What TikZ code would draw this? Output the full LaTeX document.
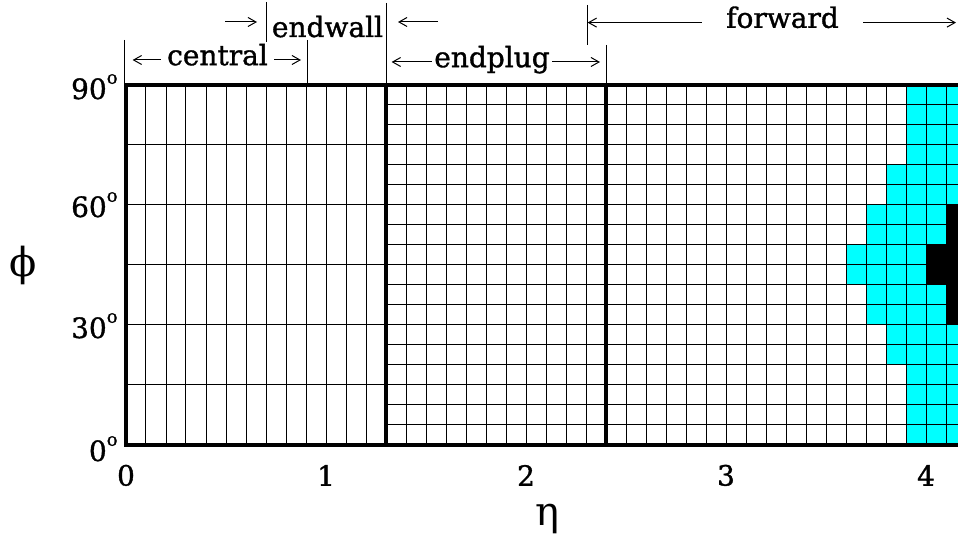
\documentclass[tikz,border=0pt]{standalone}
\usepackage{fontspec}
\setmainfont{DejaVu Serif}
\newfontfamily\lblfont{DejaVu Serif}[RawFeature={embolden=1.2}]
\usepackage{tikz}
\tikzset{x=100pt,y=2pt}
\usetikzlibrary{arrows.meta}
\definecolor{towercyan}{RGB}{0,255,255}
\newcommand{\degsup}{\raisebox{1.05ex}{\fontsize{9}{9}\selectfont o}}

\begin{document}
\begin{tikzpicture}[
    txt/.style={font=\lblfont\fontsize{14}{16}\selectfont, inner sep=0pt},
    greek/.style={font=\fontsize{20}{24}\selectfont, inner sep=0pt},
    dimarrow/.style={-{Straight Barb[length=4pt,width=4.5pt]}, line width=0.5pt},
    tickbar/.style={line width=0.5pt},
    gridline/.style={line width=0.5pt},
    boxline/.style={line width=2.2pt}]
\useasboundingbox (-0.63,-22.5) rectangle (4.16,111.25);

% towers with energy
\fill[towercyan] (3.9,70) rectangle (4.2,90);
\fill[towercyan] (3.8,60) rectangle (4.2,70);
\fill[towercyan] (3.7,50) rectangle (4.1,60);
\fill[black] (4.1,50) rectangle (4.2,60);
\fill[towercyan] (3.6,40) rectangle (4.0,50);
\fill[black] (4.0,40) rectangle (4.2,50);
\fill[towercyan] (3.7,30) rectangle (4.1,40);
\fill[black] (4.1,30) rectangle (4.2,40);
\fill[towercyan] (3.8,20) rectangle (4.2,30);
\fill[towercyan] (3.9,0) rectangle (4.2,20);

% central + endwall segmentation
\foreach \i in {1,...,12}
    \draw[gridline] (\i/10,0) -- (\i/10,90);
\foreach \p in {15,30,...,75}
    \draw[gridline] (0,\p) -- (1.3,\p);
% endplug + forward segmentation
\foreach \i in {14,...,42}
    \draw[gridline] (\i/10,0) -- (\i/10,90);
\foreach \p in {5,10,...,85}
    \draw[gridline] (1.3,\p) -- (4.2,\p);

% detector boundaries
\draw[boxline] (0,0) rectangle (1.3,90);
\draw[boxline] (1.3,0) rectangle (2.4,90);
\draw[boxline] (2.4,0) -- (4.2,0) (2.4,90) -- (4.2,90);

% phi axis
\node[txt,anchor=base east] (p90) at (-0.04,86.5) {90\degsup};
\node[txt,anchor=base east] (p60) at (-0.04,57) {60\degsup};
\node[txt,anchor=base east] (p30) at (-0.04,26.75) {30\degsup};
\node[txt,anchor=base east] (p0) at (-0.04,-4) {0\degsup};
\node[greek] (philbl) at (-0.515,45) {ϕ};

% eta axis
\foreach \e in {0,...,4}
    \node[txt] (eta\e) at (\e,-7.6) {\e};
\node[greek] (etalbl) at (2.105,-18.6) {η};

% region limits
\coordinate (c0t) at (-0.01,101.25); \coordinate (c0b) at (-0.01,90);
\coordinate (c1t) at (0.905,101.25); \coordinate (c1b) at (0.905,90);
\coordinate (w0t) at (0.703,110.75); \coordinate (w0b) at (0.703,100.75);
\coordinate (w1t) at (1.303,110.5);  \coordinate (w1b) at (1.303,90);
\coordinate (p1t) at (2.403,100);    \coordinate (p1b) at (2.403,90);
\coordinate (f0t) at (2.308,110);    \coordinate (f0b) at (2.308,100);
\foreach \b in {c0,c1,w0,w1,p1,f0}
    \draw[tickbar] (\b t) -- (\b b);

% central
\node[txt,anchor=mid,inner xsep=3pt] (central) at (0.4575,96.25) {central};
\draw[dimarrow,shorten >=4.3pt] (central.mid west) -- (central.mid west -| c0t);
\draw[dimarrow,shorten >=3pt] (central.mid east) -- (central.mid east -| c1t);

% endwall
\node[txt,anchor=base] (endwall) at (1.0075,102) {endwall};
\coordinate (ewA) at (0.495,105.75); \coordinate (ewB) at (0.655,105.75);
\coordinate (ewC) at (1.56,105.75);  \coordinate (ewD) at (1.36,105.75);
\draw[dimarrow] (ewA) -- (ewB);
\draw[dimarrow] (ewC) -- (ewD);

% endplug
\node[txt,anchor=mid,inner xsep=1pt] (endplug) at (1.83,95.75) {endplug};
\draw[dimarrow,shorten >=2.5pt] (endplug.mid west) -- (endplug.mid west -| w1t);
\draw[dimarrow,shorten >=3.3pt] (endplug.mid east) -- (endplug.mid east -| p1t);

% forward
\node[txt,anchor=mid,inner xsep=12pt] (forward) at (3.2825,105.6) {forward};
\coordinate (fwE) at (4.15,105.6);
\draw[dimarrow] (forward.mid west) -- (forward.mid west -| f0t);
\draw[dimarrow] (forward.mid east) -- (fwE);
\end{tikzpicture}
\end{document}
